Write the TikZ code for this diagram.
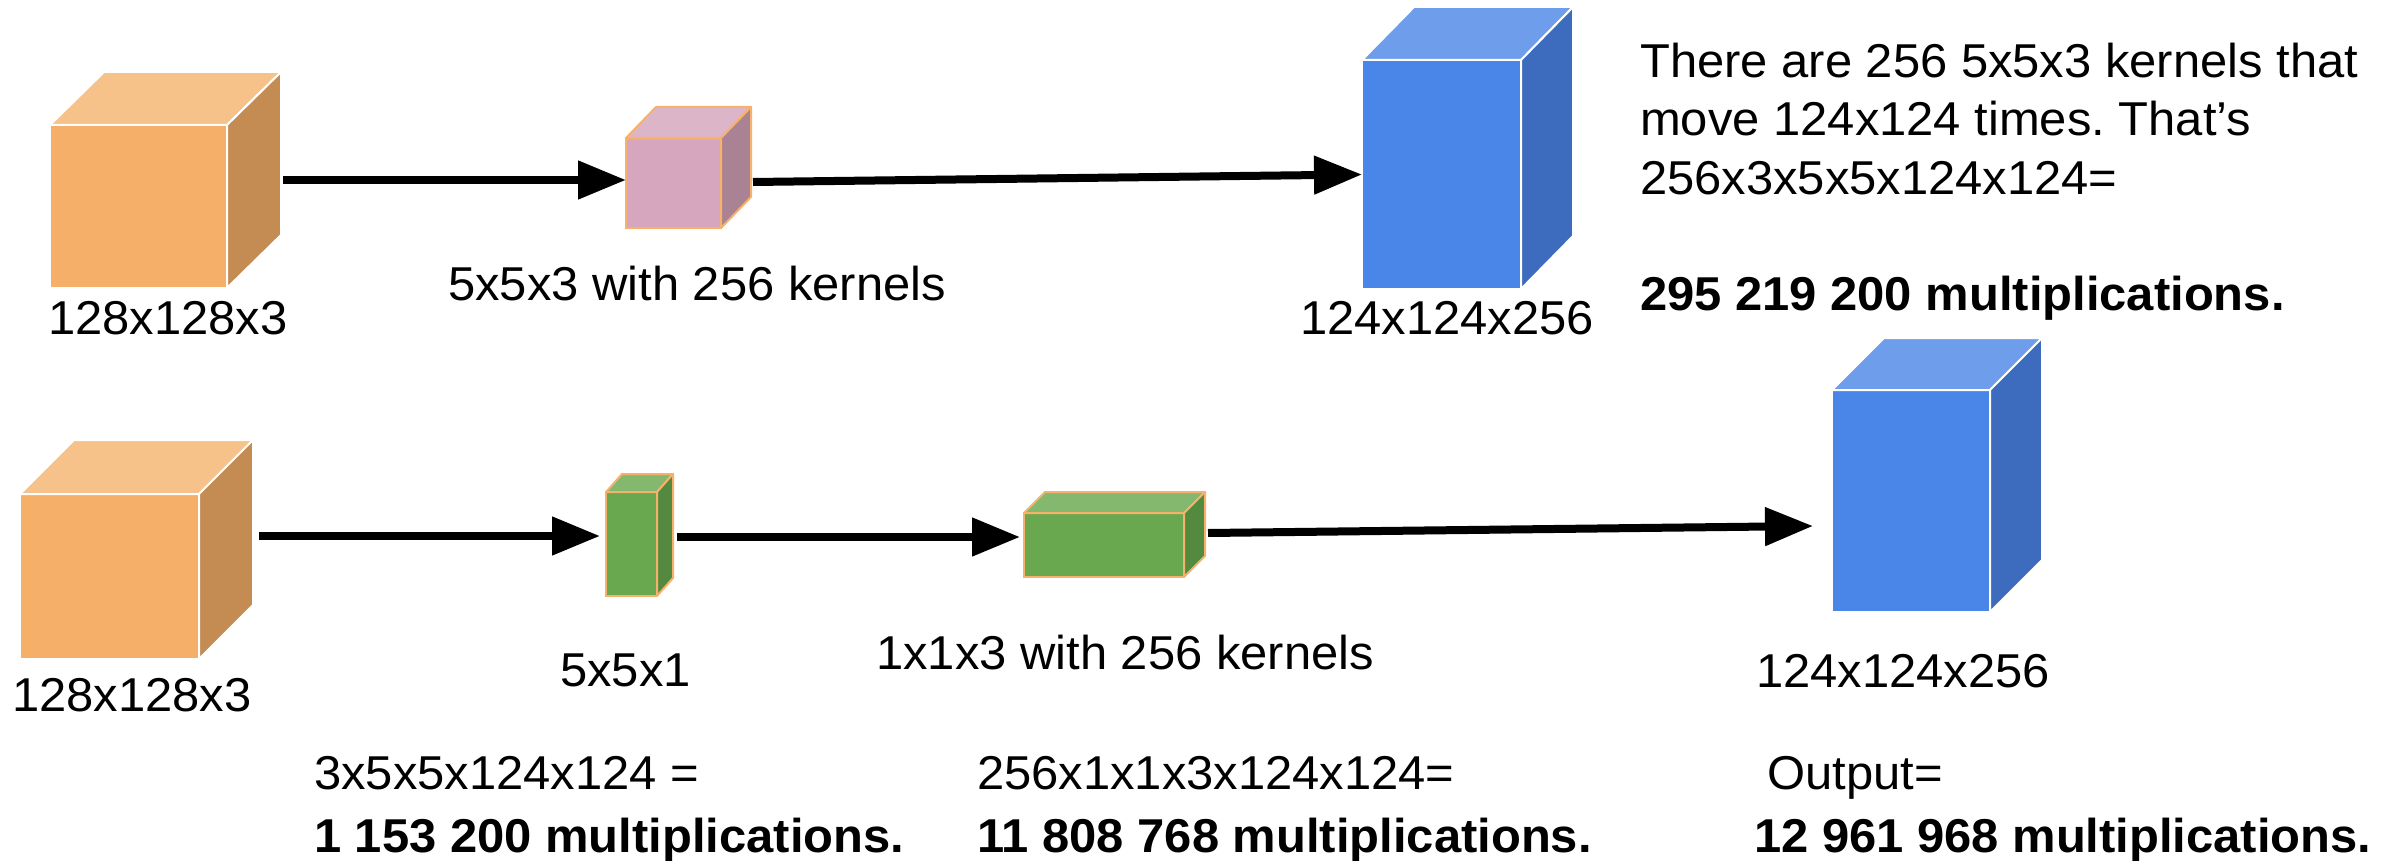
\documentclass[tikz,border=0pt]{standalone}
\usepackage{fontspec}
\setmainfont{Liberation Sans}[FakeStretch=1.03]
\usetikzlibrary{arrows.meta,calc}
\definecolor{orF}{HTML}{F5AF69}
\definecolor{orT}{HTML}{F7C18A}
\definecolor{orS}{HTML}{C48B53}
\definecolor{blF}{HTML}{4A86E8}
\definecolor{blT}{HTML}{6E9EEB}
\definecolor{blS}{HTML}{3D6BBD}
\definecolor{grF}{HTML}{6AA84F}
\definecolor{grT}{HTML}{85B86F}
\definecolor{grS}{HTML}{548A3F}
\definecolor{pkF}{HTML}{D5A6BD}
\definecolor{pkT}{HTML}{DDB5C9}
\definecolor{pkS}{HTML}{A98293}
\definecolor{edgeO}{HTML}{F6B26B}
\tikzset{
  front/.style={anchor=north west, inner sep=0pt, outer sep=0pt, line width=2pt},
  face/.style={line width=2pt, line join=round},
  arr/.style={line width=8pt, -{Triangle[length=48pt,width=37pt]}},
  lbl/.style={anchor=base west, inner sep=0pt, font=\fontsize{47.5}{57}\selectfont},
  blbl/.style={lbl, font=\fontsize{47.5}{57}\selectfont\bfseries},
}
\newcommand\cubeshape[9]{%
  \node[front, fill=#8F, draw=#9, minimum width=#4pt, minimum height=#5pt] (#1) at (#2,#3) {};
  \path[face, fill=#8T, draw=#9] (#1.north west) -- ++(#6,-#7) -- ++(#4,0) -- (#1.north east) -- cycle;
  \path[face, fill=#8S, draw=#9] (#1.north east) -- ++(#6,-#7) -- ++(0,#5) -- (#1.south east) -- cycle;
}
\frenchspacing
\begin{document}
\begin{tikzpicture}[x=1pt, y=-1pt]
\useasboundingbox (0,0) rectangle (2397,861);
% top row
\cubeshape{o1}{50}{125}{177}{163}{54}{53}{or}{white}
\cubeshape{p1}{626}{138}{95}{90}{30}{31}{pk}{edgeO}
\cubeshape{b1}{1362}{60}{159}{229}{52}{53}{bl}{white}
% bottom row
\cubeshape{o2}{20}{494}{179}{165}{54}{54}{or}{white}
\cubeshape{g1}{606}{492}{51}{104}{16}{18}{gr}{edgeO}
\cubeshape{g2}{1024}{513}{160}{64}{21}{21}{gr}{edgeO}
\cubeshape{b2}{1832}{390}{158}{222}{52}{52}{bl}{white}
% connectors
\coordinate (o1r) at (283,180);
\coordinate (p1r) at (753,182);
\coordinate (o2r) at (259,536);
\coordinate (g1r) at (677,537);
\coordinate (g2r) at (1208,533);
\coordinate (b2in) at ($(b2.west)+(-19,25)$);
\draw[arr] (o1r) -- (o1r -| p1.west);
\draw[arr] (p1r) -- (b1.west);
\draw[arr] (o2r) -- ($(o2r -| g1.west)+(-6,0)$);
\draw[arr] (g1r) -- ($(g1r -| g2.west)+(-4,0)$);
\draw[arr] (g2r) -- (b2in);
% labels
\node[lbl] (t1) at (48,334) {128x128x3};
\node[lbl] (t2) at (448,300) {5x5x3 with 256 kernels};
\node[lbl] (t3) at (1300,334) {124x124x256};
\node[lbl] (n1) at (1640,78) {There are 256 5x5x3 kernels that};
\node[lbl] (n2) at (1640,136) {move 124x124 times. That’s};
\node[lbl] (n3) at (1640,194) {256x3x5x5x124x124=};
\node[blbl] (n4) at (1640,310) {295 219 200 multiplications.};
\node[lbl] (u1) at (12,711) {128x128x3};
\node[lbl] (u2) at (560,686) {5x5x1};
\node[lbl] (u3) at (876,669) {1x1x3 with 256 kernels};
\node[lbl] (u4) at (1756,687) {124x124x256};
\node[lbl] (m1) at (314,789) {3x5x5x124x124 =};
\node[blbl] (m2) at (314,852) {1 153 200 multiplications.};
\node[lbl] (m3) at (977,789) {256x1x1x3x124x124=};
\node[blbl] (m4) at (977,852) {11 808 768 multiplications.};
\node[lbl] (m5) at (1767,789) {Output=};
\node[blbl] (m6) at (1754,852) {12 961 968 multiplications.};
\end{tikzpicture}
\end{document}
